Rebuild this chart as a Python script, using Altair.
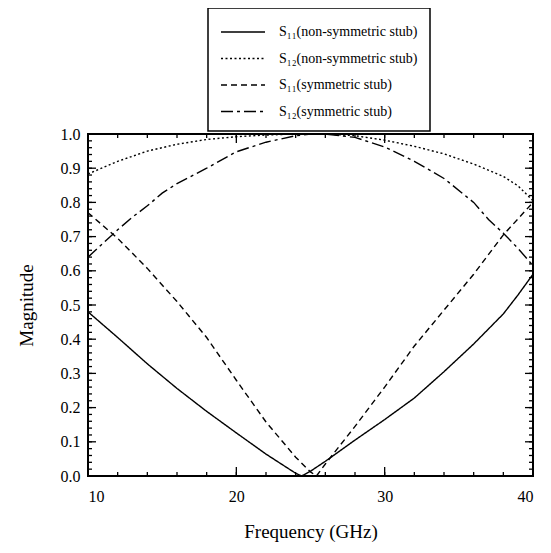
import altair as alt
import pandas as pd

# ---- data ----
series_names = [
    "S₁₁(non-symmetric stub)",
    "S₁₂(non-symmetric stub)",
    "S₁₁(symmetric stub)",
    "S₁₂(symmetric stub)",
]

f_s11_ns = [10, 12, 14, 16, 18, 20, 22, 24, 24.4, 25, 26, 28, 30, 32, 34, 36, 38, 39, 40]
m_s11_ns = [0.48, 0.405, 0.328, 0.256, 0.189, 0.126, 0.064, 0.008, 0.0, 0.014, 0.043, 0.105,
            0.165, 0.228, 0.305, 0.386, 0.474, 0.53, 0.59]

f_s12_ns = [10, 12, 14, 16, 18, 20, 22, 24, 26, 28, 30, 32, 34, 36, 38, 39, 40]
m_s12_ns = [0.883, 0.92, 0.95, 0.97, 0.984, 0.992, 0.997, 1.0, 1.0, 0.995, 0.982, 0.964,
            0.942, 0.912, 0.876, 0.848, 0.805]

f_s11_s = [10, 12, 14, 16, 18, 20, 22, 24, 25, 25.4, 26, 28, 30, 32, 34, 36, 38, 40]
m_s11_s = [0.77, 0.695, 0.607, 0.51, 0.405, 0.28, 0.158, 0.055, 0.012, 0.0, 0.035, 0.145,
           0.26, 0.38, 0.485, 0.59, 0.705, 0.80]

f_s12_s = [10, 11, 12, 13, 14, 15, 16, 18, 20, 22, 24, 25, 26, 28, 30, 32, 34, 36, 37, 38, 39, 40]
m_s12_s = [0.64, 0.68, 0.72, 0.757, 0.79, 0.827, 0.855, 0.9, 0.948, 0.976, 0.995, 1.0, 1.0,
           0.99, 0.962, 0.92, 0.87, 0.8, 0.75, 0.71, 0.665, 0.615]

x_major = [10, 20, 30, 40]
x_minor = [10, 12, 14, 16, 18, 20, 22, 24, 26, 28, 30, 32, 34, 36, 38, 40]
y_major = [0.0, 0.1, 0.2, 0.3, 0.4, 0.5, 0.6, 0.7, 0.8, 0.9, 1.0]
y_minor = [round(i * 0.02, 2) for i in range(51)]

# ---- table ----
rows = []
for name, fs, ms in zip(series_names,
                        [f_s11_ns, f_s12_ns, f_s11_s, f_s12_s],
                        [m_s11_ns, m_s12_ns, m_s11_s, m_s12_s]):
    for f, m in zip(fs, ms):
        rows.append({"series": name, "f": f, "m": m})
df = pd.DataFrame(rows)

W, H = 445, 342
TOP = 126
FONT = "Liberation Serif"

xs = alt.Scale(domain=[10, 40], nice=False, zero=False)
ys = alt.Scale(domain=[0, 1], nice=False, zero=False)

lines = alt.Chart(df).mark_line(color="black", strokeWidth=1.4).encode(
    x=alt.X("f:Q", scale=xs,
            axis=alt.Axis(title="Frequency (GHz)", values=x_major, format="d",
                          labelPadding=12, titlePadding=18)),
    y=alt.Y("m:Q", scale=ys,
            axis=alt.Axis(title="Magnitude", values=y_major, format=".1f",
                          labelPadding=8, titlePadding=24)),
    strokeDash=alt.StrokeDash(
        "series:N",
        scale=alt.Scale(domain=series_names,
                        range=[[1, 0], [2, 2.5], [6, 4], [12, 4, 3, 4]]),
        legend=alt.Legend(title=None, orient="none", legendX=120, legendY=-TOP),
    ),
)

ydf_major = pd.DataFrame({"v": y_major})
ydf_minor = pd.DataFrame({"v": y_minor})
xdf_major = pd.DataFrame({"v": x_major})
xdf_minor = pd.DataFrame({"v": x_minor})

def yticks(d, length):
    left = alt.Chart(d).mark_rule(color="black", strokeWidth=1.3).encode(
        y=alt.Y("v:Q", scale=ys, axis=None), x=alt.value(0), x2=alt.value(length))
    right = alt.Chart(d).mark_rule(color="black", strokeWidth=1.3).encode(
        y=alt.Y("v:Q", scale=ys, axis=None), x=alt.value(W - length), x2=alt.value(W))
    return [left, right]

def xticks(d, length):
    bottom = alt.Chart(d).mark_rule(color="black", strokeWidth=1.3).encode(
        x=alt.X("v:Q", scale=xs, axis=None), y=alt.value(H), y2=alt.value(H - length))
    top = alt.Chart(d).mark_rule(color="black", strokeWidth=1.3).encode(
        x=alt.X("v:Q", scale=xs, axis=None), y=alt.value(0), y2=alt.value(length))
    return [bottom, top]

layers = [lines] + yticks(ydf_major, 8) + yticks(ydf_minor, 4) + xticks(xdf_major, 9) + xticks(xdf_minor, 4)

chart = alt.layer(*layers).resolve_axis(
    x="independent", y="independent"
).properties(
    width=W, height=H,
    padding={"left": 80, "top": TOP, "right": 8, "bottom": 68},
    autosize=alt.AutoSizeParams(type="none"),
    background="white",
).configure_view(
    stroke="black", strokeWidth=2
).configure_axis(
    grid=False, domain=False, ticks=False,
    labelFont=FONT, labelFontSize=16, labelColor="black",
    titleFont=FONT, titleFontSize=19, titleFontWeight="normal", titleColor="black",
).configure_legend(
    strokeColor="black", strokeWidth=1.5, padding=12,
    labelFont=FONT, labelFontSize=14, labelColor="black", labelLimit=400,
    symbolType="M-1,0H3", symbolSize=484, symbolStrokeWidth=1.4,
    symbolStrokeColor="black", labelOffset=35, rowPadding=7.5,
)

chart.save("out.html", embed_options={"renderer": "svg", "actions": False})
